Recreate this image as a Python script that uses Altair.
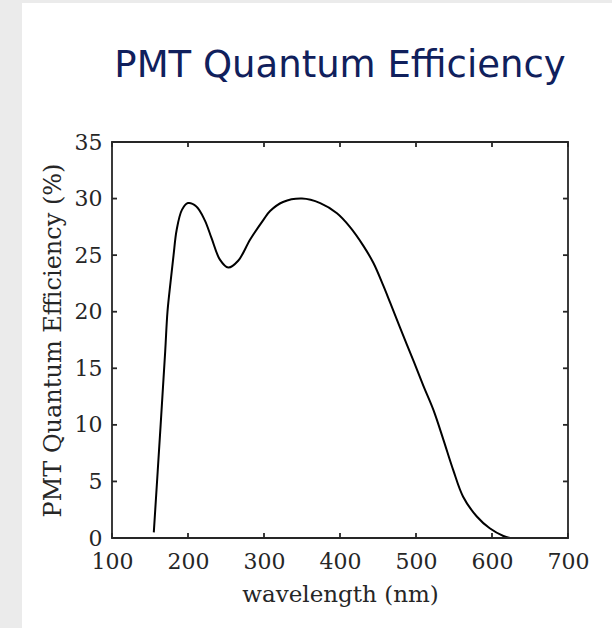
import altair as alt
import pandas as pd

# PMT quantum efficiency curve (wavelength in nm, QE in %)
wavelength = [155, 164, 170, 173, 177, 181, 185, 192, 200, 211, 222, 231, 242,
              253, 266, 282, 299, 308, 325, 350, 374, 396, 413, 431, 444, 457,
              466, 479, 497, 510, 523, 536, 549, 562, 580, 597, 615, 624]
efficiency = [0.5, 10.0, 16.5, 20.0, 22.6, 25.0, 27.2, 29.0, 29.6, 29.3, 28.1,
              26.5, 24.6, 23.9, 24.5, 26.4, 28.1, 28.9, 29.7, 30.0, 29.6, 28.7,
              27.5, 25.8, 24.3, 22.3, 20.8, 18.6, 15.6, 13.4, 11.3, 8.7, 6.0,
              3.65, 1.9, 0.86, 0.18, 0.0]

x_ticks = [100, 200, 300, 400, 500, 600, 700]
y_ticks = [0, 5, 10, 15, 20, 25, 30, 35]

W, H = 456, 396
PAD_L, PAD_T, PAD_R, PAD_B = 112, 142, 44, 90
TICK = 5
INK = "#262626"
SERIF = "DejaVu Serif"
GREY = "#ebebeb"

curve = pd.DataFrame({"wavelength": wavelength, "qe": efficiency})
xt = pd.DataFrame({"wavelength": x_ticks})
yt = pd.DataFrame({"qe": y_ticks})
one = pd.DataFrame({"k": [0]})

x_axis = alt.Axis(values=x_ticks, ticks=False, domain=False, grid=False,
                  labelFlush=False, labelPadding=13.5, title="wavelength (nm)",
                  titleFontSize=23, titleBaseline="alphabetic", titleY=63,
                  zindex=1)
y_axis = alt.Axis(values=y_ticks, ticks=False, domain=False, grid=False,
                  labelFlush=False, labelPadding=10,
                  title="PMT Quantum Efficiency (%)", titleFontSize=24,
                  titleBaseline="alphabetic", titleX=-52, titleY=H / 2,
                  titleAngle=270, titleAlign="center", zindex=1)
x_enc = alt.X("wavelength:Q", scale=alt.Scale(domain=[100, 700], nice=False, zero=False),
              axis=x_axis)
y_enc = alt.Y("qe:Q", scale=alt.Scale(domain=[0, 35], nice=False, zero=False),
              axis=y_axis)

# grey margin strips along the left and top edges of the figure
left_strip = alt.Chart(one).mark_rect(color=GREY).encode(
    x=alt.value(-PAD_L), x2=alt.value(-(PAD_L - 22)),
    y=alt.value(-PAD_T), y2=alt.value(H + PAD_B),
)
top_strip = alt.Chart(one).mark_rect(color=GREY).encode(
    x=alt.value(-PAD_L), x2=alt.value(W + PAD_R),
    y=alt.value(-PAD_T), y2=alt.value(-(PAD_T - 3)),
)

line = alt.Chart(curve).mark_line(
    color="#000000", strokeWidth=2, interpolate="catmull-rom"
).encode(x=x_enc, y=y_enc)

# box around the plot area
frame = alt.Chart(one).mark_rect(
    fill=None, stroke=INK, strokeWidth=1.8
).encode(x=alt.value(0), x2=alt.value(W), y=alt.value(0), y2=alt.value(H))

# inward ticks on all four sides
tick_style = dict(color=INK, strokeWidth=1.8)
xb = alt.Chart(xt).mark_rule(**tick_style).encode(
    x=x_enc, y=alt.value(H), y2=alt.value(H - TICK))
xtop = alt.Chart(xt).mark_rule(**tick_style).encode(
    x=x_enc, y=alt.value(0), y2=alt.value(TICK))
yl = alt.Chart(yt).mark_rule(**tick_style).encode(
    y=y_enc, x=alt.value(0), x2=alt.value(TICK))
yr = alt.Chart(yt).mark_rule(**tick_style).encode(
    y=y_enc, x=alt.value(W), x2=alt.value(W - TICK))

chart = alt.layer(line, left_strip, top_strip, frame, xb, xtop, yl, yr).properties(
    width=W, height=H,
    autosize=alt.AutoSizeParams(type="none"),
    padding={"left": PAD_L, "top": PAD_T, "right": PAD_R, "bottom": PAD_B},
    background="#ffffff",
    title=alt.TitleParams(
        "PMT Quantum Efficiency", font="DejaVu Sans", fontSize=37,
        fontWeight="normal", color="#10205c", anchor="middle", frame="group",
        baseline="alphabetic", offset=-113.5,
    ),
).configure_view(stroke=None).configure_axis(
    labelFont=SERIF, labelFontSize=22, labelColor=INK,
    titleFont=SERIF, titleColor=INK, titleFontWeight="normal",
)

chart.save("out.html", embed_options={"renderer": "svg", "actions": False})
